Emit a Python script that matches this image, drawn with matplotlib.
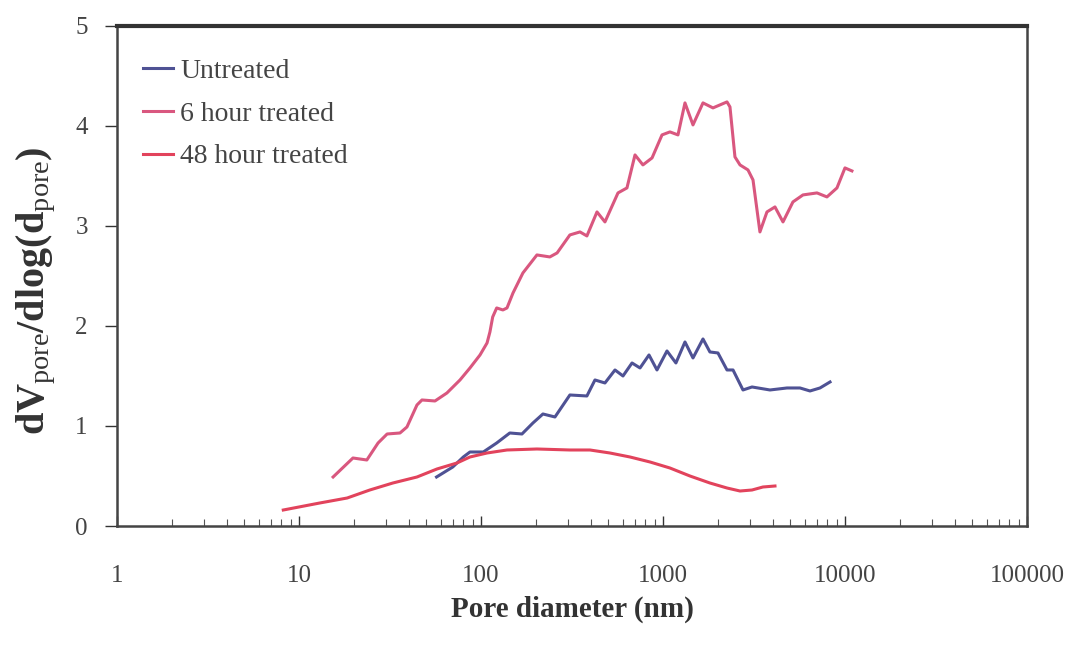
import matplotlib
matplotlib.use("Agg")
import matplotlib.pyplot as plt
from matplotlib.ticker import NullFormatter, LogLocator

plt.rcParams['font.family'] = ['Liberation Serif', 'DejaVu Serif']
plt.rcParams['mathtext.fontset'] = 'custom'
plt.rcParams['mathtext.rm'] = 'Liberation Serif'
plt.rcParams['mathtext.bf'] = 'Liberation Serif:bold'
plt.rcParams['mathtext.it'] = 'Liberation Serif:italic'

# Untreated
d_untreated = [57, 70, 80, 87, 103, 122, 144, 168, 193, 219, 255, 308, 382, 423, 480,
               545, 603, 676, 748, 838, 927, 1052, 1178, 1321, 1462, 1659, 1811, 2005,
               2248, 2426, 2752, 3085, 3872, 4801, 5662, 6424, 7290, 8277]
v_untreated = [0.49, 0.59, 0.69, 0.74, 0.74, 0.83, 0.93, 0.92, 1.03, 1.12, 1.09, 1.31,
               1.30, 1.46, 1.43, 1.56, 1.50, 1.63, 1.58, 1.71, 1.56, 1.75, 1.63, 1.84,
               1.68, 1.87, 1.74, 1.73, 1.56, 1.56, 1.36, 1.39, 1.36, 1.38, 1.38, 1.35,
               1.38, 1.44]

# 6 hour treated
d_6h = [15.4, 19.8, 23.6, 27.2, 30.5, 35.9, 39.2, 44.5, 47.4, 55.9, 65.0, 76.7, 87.0,
        98.8, 108, 112, 116, 122, 132, 139, 150, 170, 203, 239, 262, 308, 350, 382,
        434, 480, 566, 634, 702, 776, 871, 988, 1092, 1209, 1321, 1462, 1659, 1883,
        2248, 2334, 2486, 2650, 2931, 3124, 3410, 3727, 4125, 4565, 5177, 5878, 7019,
        7961, 9036, 10000, 10920]
v_6h = [0.49, 0.68, 0.66, 0.83, 0.92, 0.93, 0.99, 1.21, 1.26, 1.25, 1.33, 1.46, 1.58,
        1.71, 1.83, 1.94, 2.09, 2.18, 2.16, 2.18, 2.33, 2.53, 2.71, 2.69, 2.73, 2.91,
        2.94, 2.90, 3.14, 3.04, 3.33, 3.38, 3.71, 3.61, 3.68, 3.91, 3.94, 3.91, 4.23,
        4.01, 4.23, 4.18, 4.24, 4.19, 3.69, 3.61, 3.56, 3.46, 2.94, 3.14, 3.19, 3.04,
        3.24, 3.31, 3.33, 3.29, 3.38, 3.58, 3.55]

# 48 hour treated
d_48h = [8.2, 13.0, 18.4, 24.5, 32.8, 44.5, 57.3, 73.8, 87, 108, 139, 203, 308, 397,
         511, 659, 849, 1092, 1407, 1811, 2248, 2650, 3085, 3541, 4125]
v_48h = [0.16, 0.23, 0.28, 0.36, 0.43, 0.49, 0.57, 0.63, 0.69, 0.73, 0.76, 0.77, 0.76,
         0.76, 0.73, 0.69, 0.64, 0.58, 0.50, 0.43, 0.38, 0.35, 0.36, 0.39, 0.40]

x_ticks = [1, 10, 100, 1000, 10000, 100000]
x_labels = ['1', '10', '100', '1000', '10000', '100000']
y_ticks = [0, 1, 2, 3, 4, 5]

fig = plt.figure(figsize=(10.8, 6.47), dpi=100)
ax = fig.add_axes([0.1083, 0.187, 0.8426, 0.773])

ax.plot(d_untreated, v_untreated, color='#4f5294', lw=2.2, label='Untreated')
ax.plot(d_6h, v_6h, color='#d9577f', lw=2.2, label='6 hour treated')
ax.plot(d_48h, v_48h, color='#e2435c', lw=2.2, label='48 hour treated')

ax.set_xscale('log')
ax.set_xlim(1, 100000)
ax.set_ylim(0, 5)
ax.set_xticks(x_ticks)
ax.set_xticklabels(x_labels)
ax.xaxis.set_minor_locator(LogLocator(base=10, subs=range(2, 10)))
ax.xaxis.set_minor_formatter(NullFormatter())
ax.set_yticks(y_ticks)

ax.tick_params(axis='x', which='major', direction='in', length=7, width=1,
               pad=28, labelsize=18, colors='#333333', labelcolor='#444444')
ax.tick_params(axis='x', which='minor', direction='in', length=5, width=0.8,
               colors='#555555')
ax.tick_params(axis='y', which='major', direction='out', length=9, width=1,
               pad=12, labelsize=18, colors='#333333', labelcolor='#444444')

for side in ['left', 'bottom', 'right']:
    ax.spines[side].set_linewidth(1.8)
    ax.spines[side].set_color('#444444')
ax.spines['top'].set_linewidth(3.0)
ax.spines['top'].set_color('#333333')

ax.set_xlabel('Pore diameter (nm)', fontsize=21, fontweight='bold', color='#333333',
              labelpad=6)
ax.set_ylabel(r'$\mathbf{dV}_{\mathrm{pore}}\mathbf{/dlog(d}_{\mathrm{pore}}\mathbf{)}$',
              fontsize=29, color='#333333')
ax.yaxis.set_label_coords(-0.065, 0.47)

leg = ax.legend(loc='upper left', bbox_to_anchor=(0.01, 0.968), fontsize=20,
                frameon=False, handlelength=1.1, handletextpad=0.25,
                labelspacing=0.62, borderaxespad=0.2)
for t in leg.get_texts():
    t.set_color('#444444')

fig.savefig('out.png', dpi=100)
